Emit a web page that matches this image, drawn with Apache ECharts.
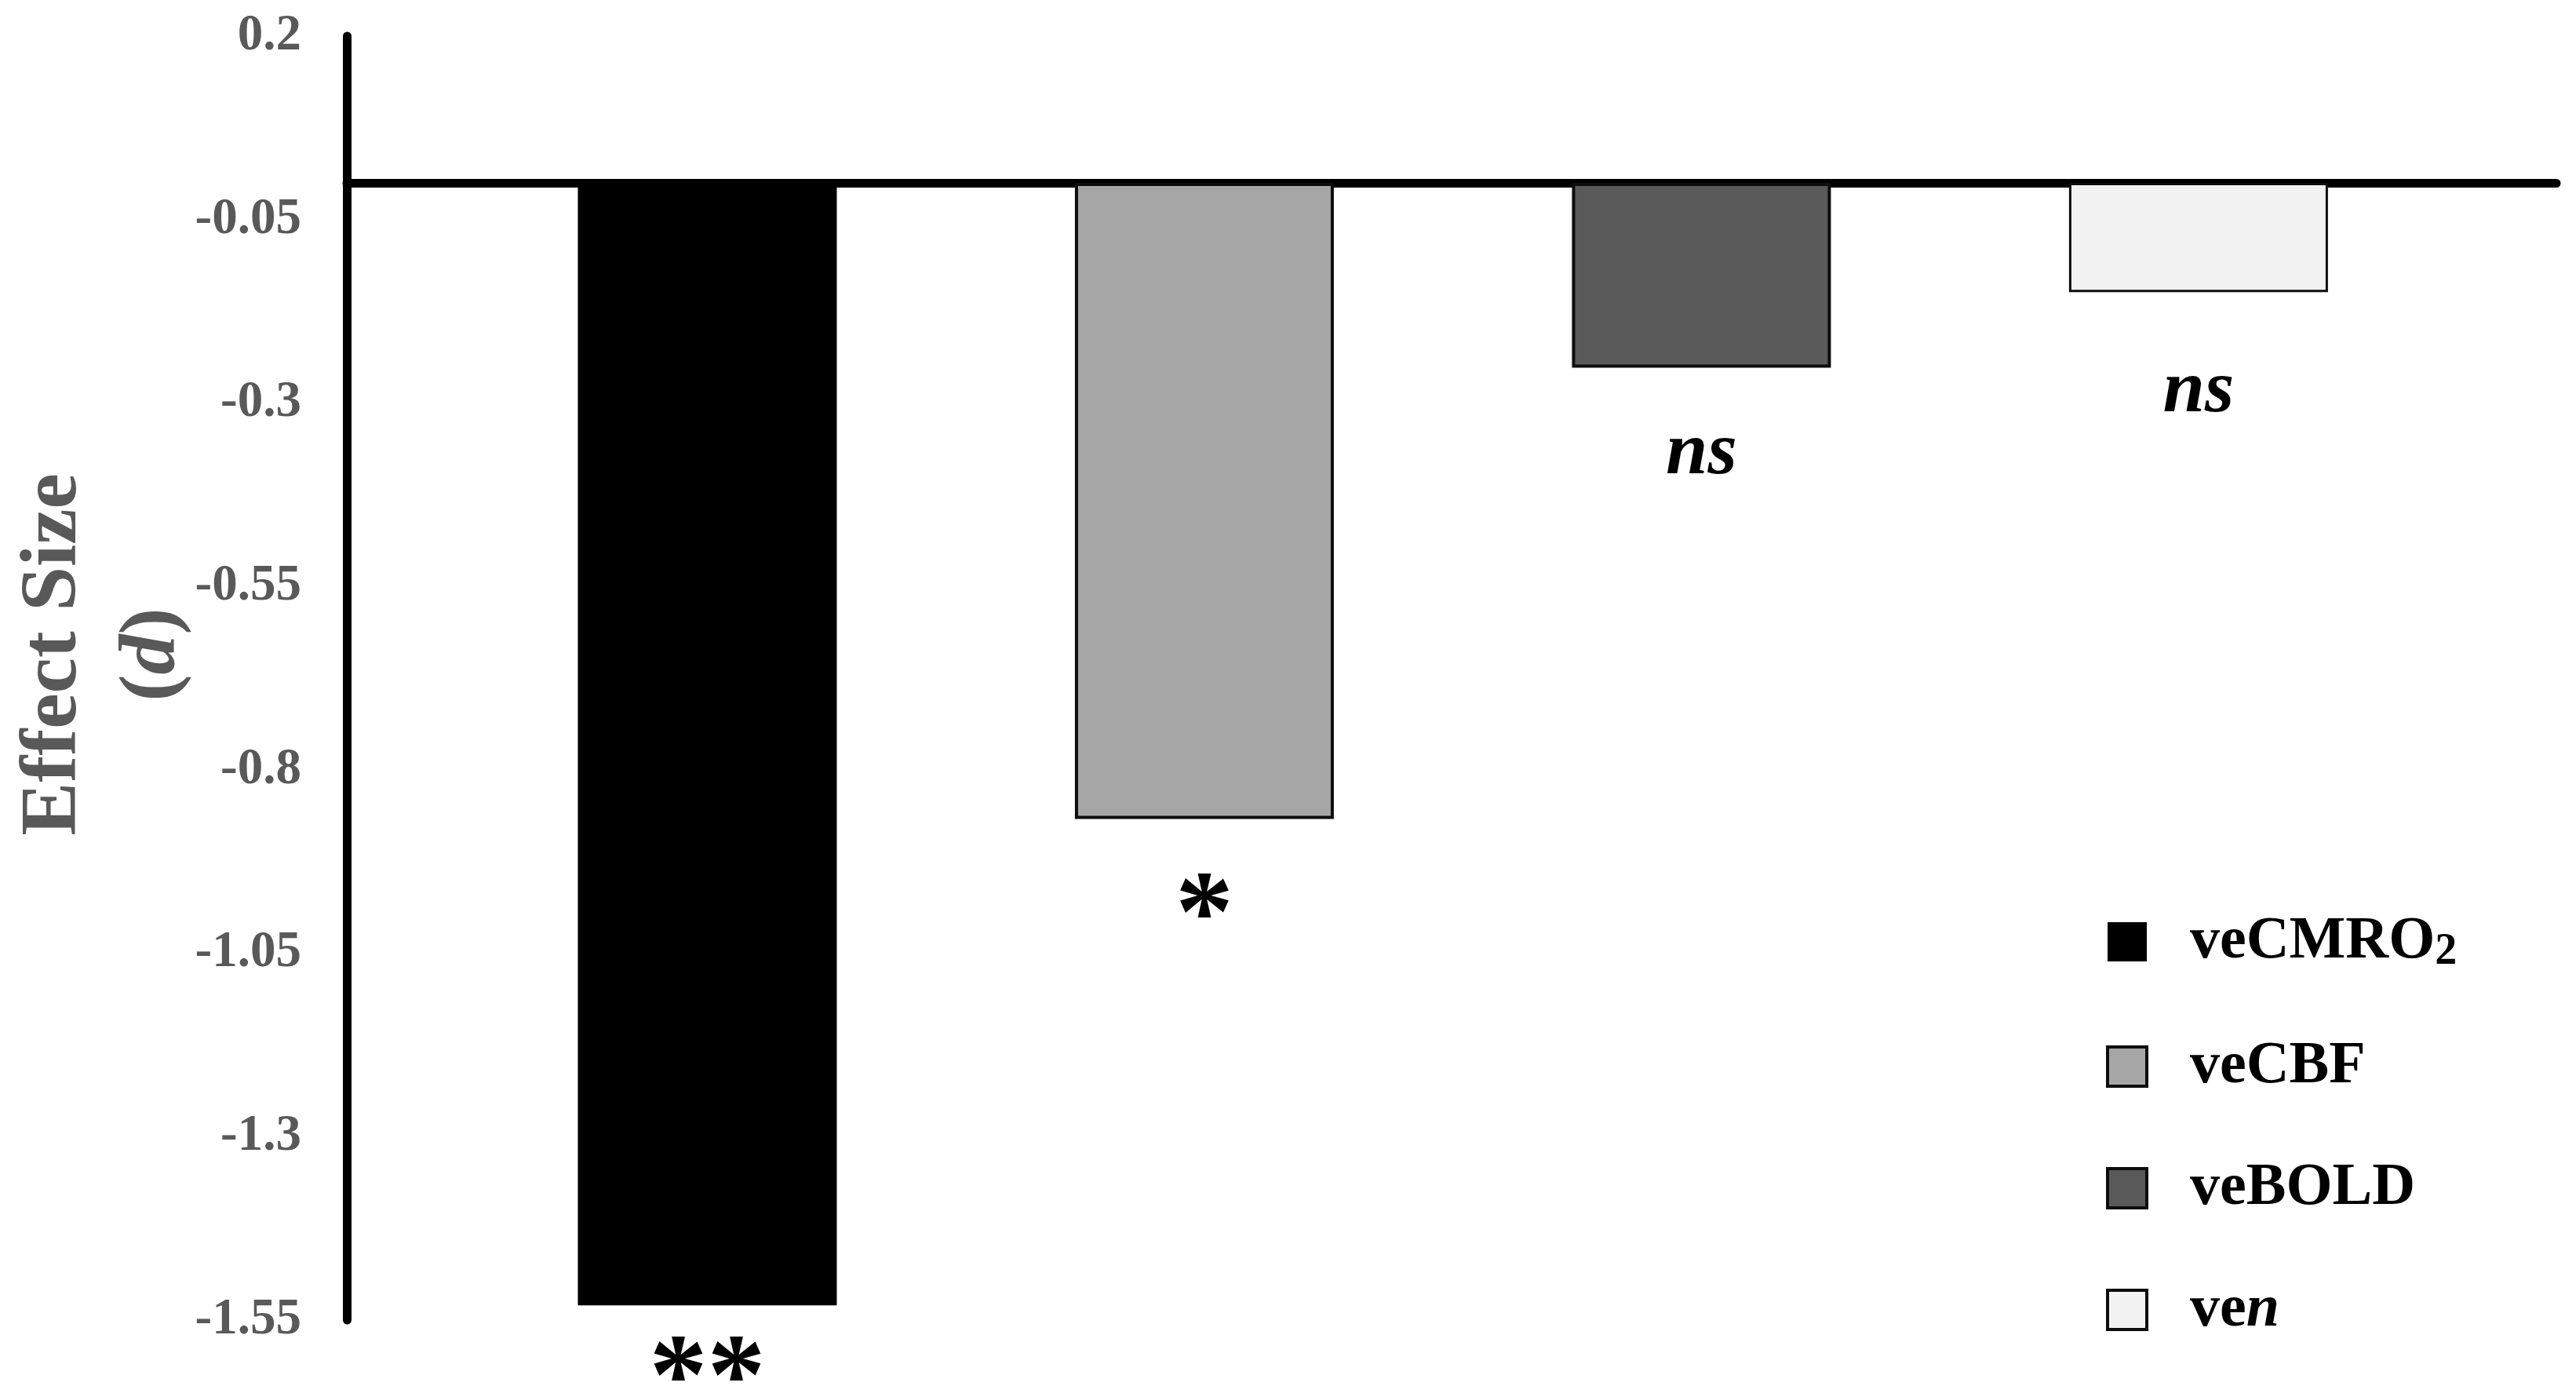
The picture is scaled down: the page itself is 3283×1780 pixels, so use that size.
<!DOCTYPE html>
<html>
<head>
<meta charset="utf-8">
<title>Effect Size (d)</title>
<script src="https://cdn.jsdelivr.net/npm/echarts@6/dist/echarts.min.js"></script>
<style>
  html, body { margin: 0; padding: 0; background: #fff; }
  #chart { width: 3283px; height: 1780px; }
</style>
</head>
<body>
<div id="chart"></div>
<script>
// data
var categories = ['veCMRO2', 'veCBF', 'veBOLD', 'ven'];
var effectSizes = [-1.53, -0.867, -0.252, -0.149];
var significance = ['**', '*', 'ns', 'ns'];
var tickLabels = ['-1.55', '-1.3', '-1.05', '-0.8', '-0.55', '-0.3', '-0.05', '0.2'];

var SERIF = '"Liberation Serif", "Times New Roman", serif';
var fills = ['#000000', '#a6a6a6', '#595959', '#f2f2f2'];
var borders = [0, 4, 4, 3];
var labelGaps = [25, 55, 62, 79];

var chart = echarts.init(document.getElementById('chart'), null, { renderer: 'canvas' });

function sigLabel(i) {
  var isNs = significance[i] === 'ns';
  return {
    show: true,
    position: 'bottom',
    distance: labelGaps[i],
    formatter: significance[i],
    fontFamily: SERIF,
    fontSize: isNs ? 96 : 148,
    fontStyle: isNs ? 'italic' : 'normal',
    fontWeight: 'bold',
    color: '#000'
  };
}

var series = categories.map(function(name, i) {
  return {
    name: name,
    type: 'bar',
    barWidth: 330,
    barGap: '-100%',
    data: [[i, effectSizes[i]]],
    itemStyle: {
      color: fills[i],
      borderColor: '#0d0d0d',
      borderWidth: borders[i]
    },
    label: sigLabel(i),
    animation: false
  };
});

function legendText(name) {
  if (name === 'veCMRO2') return '{t|veCMRO}{s|2}';
  if (name === 'ven') return '{t|ve}{i|n}';
  return '{t|' + name + '}';
}

chart.setOption({
  backgroundColor: '#fff',
  animation: false,
  grid: { left: 442, right: 25, top: 46, bottom: 98, containLabel: false, outerBoundsMode: 'none' },
  legend: {
    orient: 'vertical',
    left: 2679,
    top: 1157,
    itemWidth: 50,
    itemHeight: 50,
    itemGap: 79,
    icon: 'rect',
    data: categories.map(function(name, i) {
      return { name: name, itemStyle: { borderColor: '#0d0d0d', borderWidth: i === 0 ? 0 : 4 } };
    }),
    formatter: legendText,
    textStyle: {
      padding: [0, 0, 0, 50],
      rich: {
        t: { fontFamily: SERIF, fontWeight: 'bold', fontSize: 76, lineHeight: 84, color: '#000' },
        i: { fontFamily: SERIF, fontWeight: 'bold', fontStyle: 'italic', fontSize: 76, lineHeight: 84, color: '#000' },
        s: { fontFamily: SERIF, fontWeight: 'bold', fontSize: 56, lineHeight: 28, verticalAlign: 'bottom', color: '#000' }
      }
    }
  },
  xAxis: {
    type: 'value',
    min: -0.7253,
    max: 3.72,
    axisLine: { show: true, onZero: true, lineStyle: { color: '#000', width: 11 } },
    axisTick: { show: false },
    axisLabel: { show: false },
    splitLine: { show: false }
  },
  yAxis: {
    type: 'value',
    min: -1.55,
    max: 0.2,
    interval: 0.25,
    name: 'Effect Size\n({it|d})',
    nameLocation: 'middle',
    nameRotate: 90,
    nameGap: 183,
    nameMoveOverlap: false,
    nameTextStyle: {
      fontFamily: SERIF,
      fontWeight: 'bold',
      fontSize: 102,
      lineHeight: 126,
      color: '#595959',
      padding: [0, 0, 0, 60],
      rich: {
        it: { fontFamily: SERIF, fontWeight: 'bold', fontStyle: 'italic', fontSize: 102, lineHeight: 126, color: '#595959' }
      }
    },
    axisLine: { show: true, onZero: false, lineStyle: { color: '#000', width: 11 } },
    axisTick: { show: false },
    splitLine: { show: false },
    axisLabel: {
      margin: 58,
      fontFamily: SERIF,
      fontWeight: 'bold',
      fontSize: 65,
      color: '#595959',
      formatter: function(v) {
        var k = Math.round((v + 1.55) / 0.25);
        return tickLabels[k] !== undefined ? tickLabels[k] : '';
      }
    }
  },
  series: series
});

window.addEventListener('resize', function() { chart.resize(); });
</script>
</body>
</html>
